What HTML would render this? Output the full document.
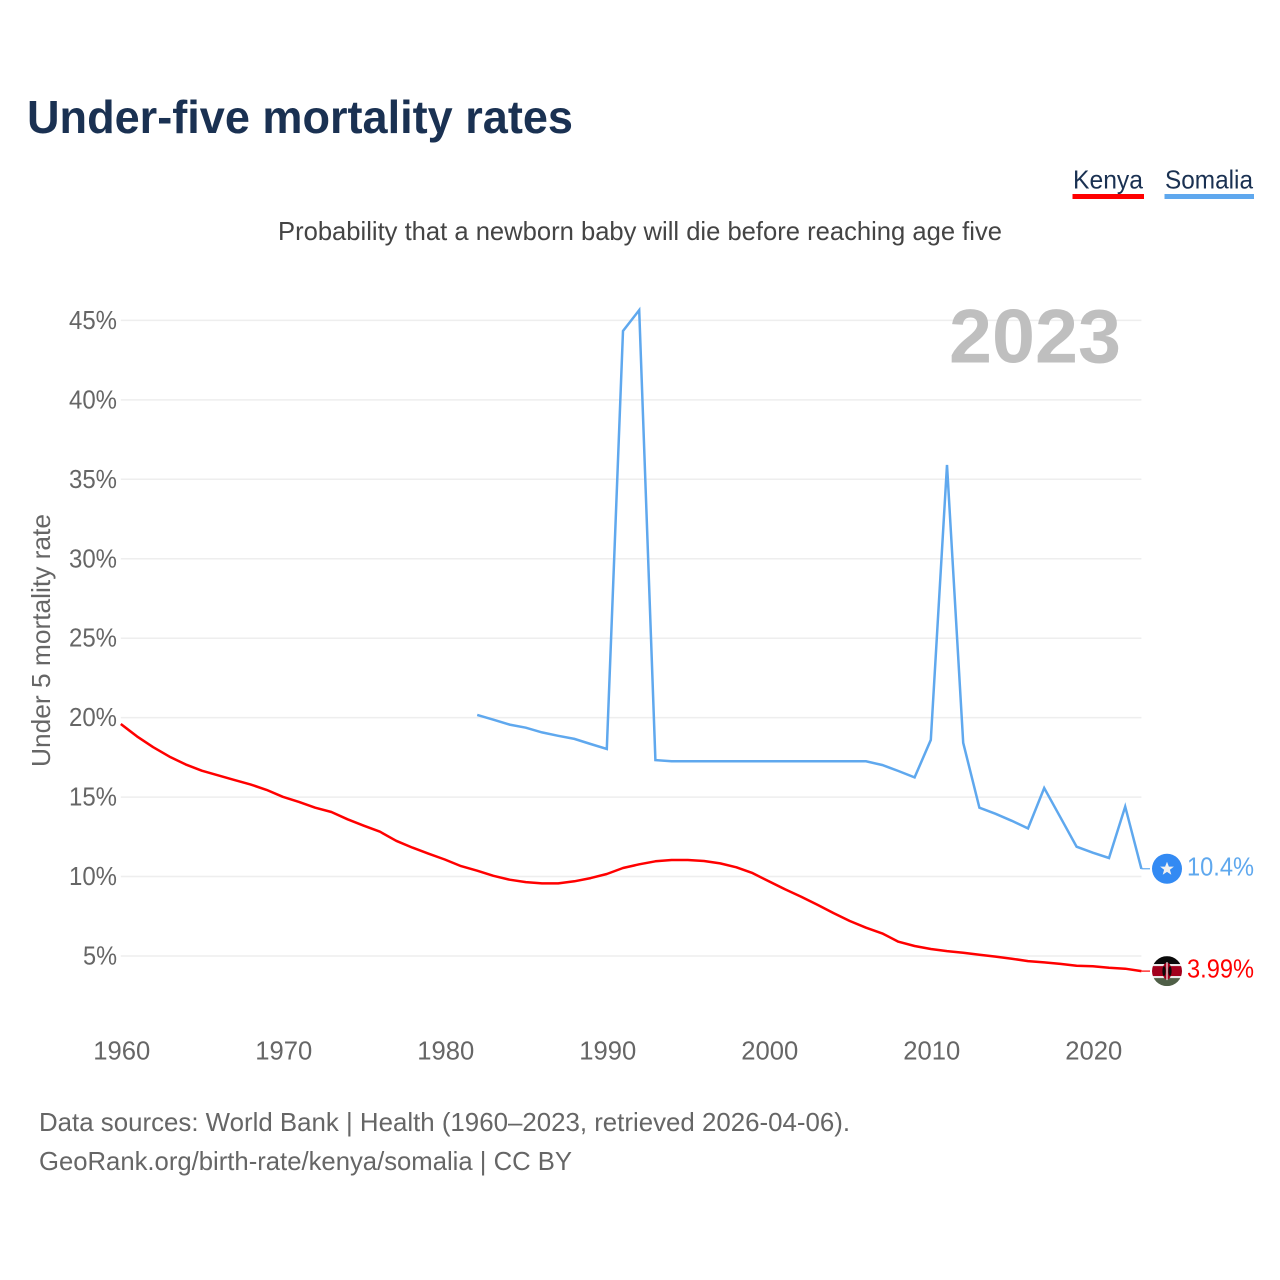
<!DOCTYPE html>
<html lang="en">
<head>
<meta charset="utf-8">
<title>Under-five mortality rates</title>
<style>
html,body{margin:0;padding:0;background:#fff;width:1280px;height:1280px;overflow:hidden}
svg{display:block}
text{font-family:"Liberation Sans",sans-serif}
</style>
</head>
<body>
<svg id="chart" width="1280" height="1280" viewBox="0 0 1280 1280" xmlns="http://www.w3.org/2000/svg">
  <rect width="1280" height="1280" fill="#fff"/>
  <text x="27" y="133" font-size="46" font-weight="700" fill="#1a3152" textLength="546" lengthAdjust="spacingAndGlyphs">Under-five mortality rates</text>

  <g>
    <text x="1073" y="188.5" font-size="26" fill="#1a3152" textLength="70" lengthAdjust="spacingAndGlyphs">Kenya</text>
    <rect x="1072.5" y="194" width="71.5" height="5" fill="#ff0000"/>
  </g>
  <g>
    <text x="1165" y="188.5" font-size="26" fill="#1a3152" textLength="88" lengthAdjust="spacingAndGlyphs">Somalia</text>
    <rect x="1164.5" y="194" width="89.5" height="5" fill="#5fa8ee"/>
  </g>

  <text x="278" y="240" font-size="26" fill="#444" textLength="724" lengthAdjust="spacingAndGlyphs">Probability that a newborn baby will die before reaching age five</text>

  <g id="grid"></g>
  <g id="yticks"></g>
  <g id="xticks"></g>

  <text transform="translate(50 767) rotate(-90)" x="0" y="0" font-size="26" fill="#666" textLength="253" lengthAdjust="spacingAndGlyphs">Under 5 mortality rate</text>

  <text x="949" y="362.5" font-size="76" font-weight="700" fill="#bfbfbf" textLength="172" lengthAdjust="spacingAndGlyphs">2023</text>

  <polyline id="line-somalia" fill="none" stroke="#5fa8ee" stroke-width="2.5" stroke-linejoin="miter" stroke-miterlimit="10"/>
  <polyline id="line-kenya" fill="none" stroke="#ff0000" stroke-width="2.5" stroke-linejoin="round"/>

  <line id="conn-somalia" stroke="#5fa8ee" stroke-width="1.2"/>
  <line id="conn-kenya" stroke="#ff0000" stroke-width="1.2"/>

  <g id="marker-somalia">
    <circle r="15" fill="#338af3"/>
    <polygon points="0,-7 1.9,-2.2 6.9,-2.2 2.9,1 4.3,6 0,3.1 -4.3,6 -2.9,1 -6.9,-2.2 -1.9,-2.2" fill="#f0f0f0"/>
  </g>

  <clipPath id="kenya-clip"><circle r="15"/></clipPath>
  <g id="marker-kenya">
    <g clip-path="url(#kenya-clip)">
      <rect x="-15" y="-15" width="30" height="8" fill="#0a0a0a"/>
      <rect x="-15" y="-7" width="30" height="2" fill="#e8e8e8"/>
      <rect x="-15" y="-5" width="30" height="10" fill="#a2001d"/>
      <rect x="-15" y="5" width="30" height="2" fill="#e8e8e8"/>
      <rect x="-15" y="7" width="30" height="8" fill="#4f5f47"/>
      <ellipse cx="0" cy="0" rx="4.6" ry="8.5" fill="#a2001d"/>
      <ellipse cx="-3" cy="0" rx="1.6" ry="5" fill="#0a0a0a"/>
      <ellipse cx="3" cy="0" rx="1.6" ry="5" fill="#0a0a0a"/>
      <rect x="-0.6" y="-9" width="1.2" height="18" fill="#f0f0f0"/>
    </g>
  </g>

  <text id="label-somalia" font-size="26" fill="#5fa8ee" textLength="67" lengthAdjust="spacingAndGlyphs"></text>
  <text id="label-kenya" font-size="26" fill="#ff0000" textLength="67" lengthAdjust="spacingAndGlyphs"></text>

  <g>
    <text x="39" y="1131" font-size="26" fill="#666" textLength="811" lengthAdjust="spacingAndGlyphs">Data sources: World Bank | Health (1960–2023, retrieved 2026-04-06).</text>
    <text x="39" y="1170" font-size="26" fill="#666" textLength="533" lengthAdjust="spacingAndGlyphs">GeoRank.org/birth-rate/kenya/somalia | CC BY</text>
  </g>
</svg>
<script>
const yTickValues = [5, 10, 15, 20, 25, 30, 35, 40, 45];
const xTickYears = [1960, 1970, 1980, 1990, 2000, 2010, 2020];
const kenyaStartYear = 1960;
const kenyaValues = [19.6, 18.82, 18.14, 17.55, 17.06, 16.66, 16.37, 16.08, 15.8, 15.45,
  15.02, 14.7, 14.33, 14.06, 13.6, 13.2, 12.82, 12.25, 11.82, 11.44,
  11.07, 10.66, 10.37, 10.05, 9.8, 9.65, 9.57, 9.57, 9.7, 9.9,
  10.16, 10.54, 10.77, 10.96, 11.04, 11.04, 10.98, 10.83, 10.58, 10.22,
  9.7, 9.2, 8.73, 8.23, 7.7, 7.2, 6.78, 6.42, 5.9, 5.63,
  5.44, 5.31, 5.21, 5.08, 4.96, 4.83, 4.68, 4.6, 4.5, 4.39,
  4.35, 4.26, 4.2, 4.05];
const somaliaStartYear = 1982;
const somaliaValues = [20.17, 19.87, 19.56, 19.37, 19.07, 18.86, 18.66, 18.34,
  18.03, 44.33, 45.65, 17.33, 17.25, 17.25, 17.25, 17.25, 17.25, 17.25,
  17.25, 17.25, 17.25, 17.25, 17.25, 17.25, 17.25, 17.02, 16.64, 16.24,
  18.6, 35.9, 18.42, 14.33, 13.95, 13.51, 13.03, 15.57, 13.73, 11.88,
  11.5, 11.17, 14.4, 10.49];
const kenyaLatestLabel = '3.99%';
const somaliaLatestLabel = '10.4%';

const SVG_NS = 'http://www.w3.org/2000/svg';
function xScale(year) { return 120.8 + (year - 1960) * 16.2; }
function yScale(v) { return 956 - (v - 5) * 15.89; }
function make(tag, parentId) {
  const el = document.createElementNS(SVG_NS, tag);
  document.getElementById(parentId).appendChild(el);
  return el;
}
function toPoints(startYear, values) {
  return values.map(function (v, i) {
    return xScale(startYear + i).toFixed(1) + ',' + yScale(v).toFixed(1);
  }).join(' ');
}

const gridEnd = xScale(2023);
yTickValues.forEach(function (v) {
  const line = make('line', 'grid');
  
  
  line.setAttribute('x1', xScale(1960));
  line.setAttribute('x2', gridEnd);
  line.setAttribute('y1', yScale(v));
  line.setAttribute('y2', yScale(v));
  line.setAttribute('stroke', '#eeeeee');
  line.setAttribute('stroke-width', '1.5');

  const label = make('text', 'yticks');
  
  
  label.setAttribute('x', 117);
  label.setAttribute('y', yScale(v) + 8.5);
  label.setAttribute('text-anchor', 'end');
  label.setAttribute('font-size', '26');
  label.setAttribute('fill', '#666');
  label.setAttribute('textLength', v < 10 ? 34 : 48);
  label.setAttribute('lengthAdjust', 'spacingAndGlyphs');
  label.textContent = v + '%';
});

xTickYears.forEach(function (year) {
  const label = make('text', 'xticks');
  
  
  label.setAttribute('x', xScale(year) - 27.5);
  label.setAttribute('y', 1059.5);
  label.setAttribute('font-size', '26');
  label.setAttribute('fill', '#666');
  label.setAttribute('textLength', 57);
  label.setAttribute('lengthAdjust', 'spacingAndGlyphs');
  label.textContent = year;
});

document.getElementById('line-kenya').setAttribute('points', toPoints(kenyaStartYear, kenyaValues));
document.getElementById('line-somalia').setAttribute('points', toPoints(somaliaStartYear, somaliaValues));

function placeEnd(key, startYear, values, text) {
  const lastIndex = values.length - 1;
  const px = xScale(startYear + lastIndex);
  const py = yScale(values[lastIndex]);
  const conn = document.getElementById('conn-' + key);
  conn.setAttribute('x1', px);
  conn.setAttribute('x2', 1150);
  conn.setAttribute('y1', py);
  conn.setAttribute('y2', py);
  document.getElementById('marker-' + key).setAttribute('transform', 'translate(1167 ' + py + ')');
  const label = document.getElementById('label-' + key);
  label.setAttribute('x', 1187);
  label.setAttribute('y', py + 6.5);
  label.textContent = text;
}
placeEnd('kenya', kenyaStartYear, kenyaValues, kenyaLatestLabel);
placeEnd('somalia', somaliaStartYear, somaliaValues, somaliaLatestLabel);
</script>
</body>
</html>
